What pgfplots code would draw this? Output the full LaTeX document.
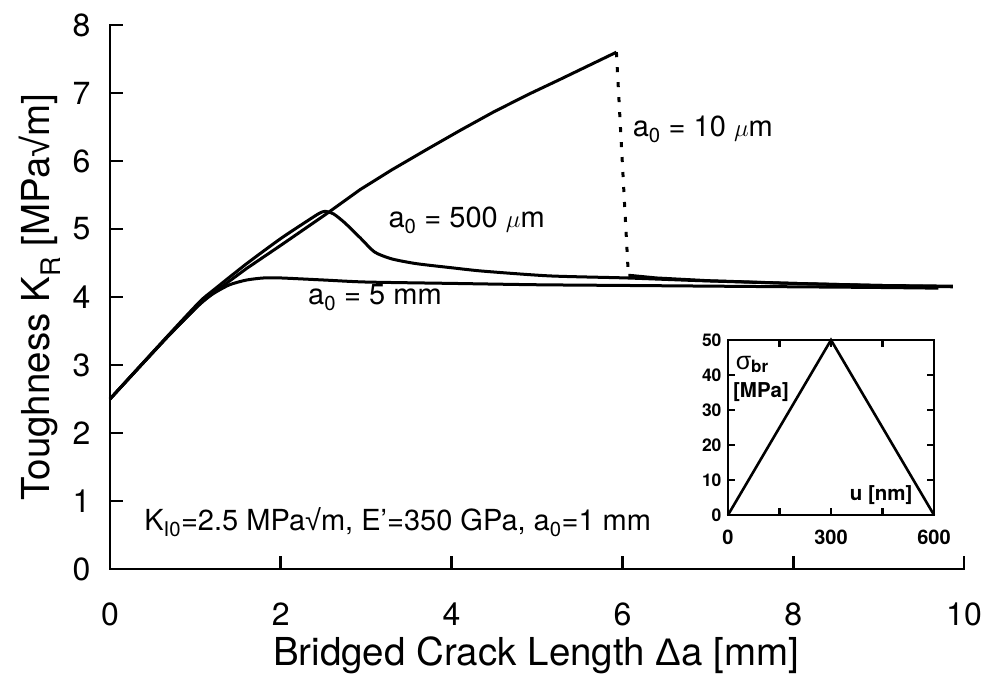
\documentclass[border=0pt]{standalone}
\usepackage{fontspec}
\setmainfont{TeX Gyre Heros}
\newfontfamily\symf{Liberation Sans}
\usepackage{pgfplots}
\pgfplotsset{compat=1.18}
\newcommand{\rt}{{\symf √}}
\begin{document}
\begin{tikzpicture}
\useasboundingbox (-110pt,-108pt) rectangle (876pt,569pt);
\begin{axis}[
  at={(0pt,0pt)}, anchor=south west,
  scale only axis, width=854pt, height=544pt,
  xmin=0, xmax=10, ymin=0, ymax=8,
  axis lines*=left,
  axis line style={line width=2.8pt, line cap=rect},
  every tick/.style={line width=2.6pt, black},
  major tick length=13pt,
  tick align=inside,
  xtick={0,2,4,6,8,10}, ytick={0,1,...,8},
  /pgf/number format/assume math mode=true,
  tick label style={font=\fontsize{32}{36}\selectfont},
  xticklabel style={yshift=-30pt},
  yticklabel style={xshift=-16pt},
  xlabel={Bridged Crack Length {\symf Δ}a [mm]},
  ylabel={Toughness K\textsubscript{R} [MPa\rt m]},
  label style={font=\fontsize{38.5}{42}\selectfont},
  xlabel style={at={(axis description cs:0.499,-0.158)}, anchor=center},
  ylabel style={at={(axis description cs:-0.082,0.5)}, anchor=center, rotate=0},
  clip=false,
]
% a0 = 10 um
\addplot[black, line width=3pt, line join=round] coordinates {
(0,2.5) (0.3,2.91) (0.67,3.41) (1.05,3.90) (1.21,4.06) (1.6,4.42) (2.0,4.76)
(2.52,5.21) (2.93,5.58) (3.3,5.87) (3.71,6.17) (4.1,6.45) (4.49,6.72)
(4.9,6.98) (5.27,7.20) (5.6,7.40) (5.93,7.60)};
\addplot[black, line width=3pt, dash pattern=on 5pt off 10pt] coordinates {
(5.93,7.60) (6.07,4.32)};
\addplot[black, line width=3pt, line join=round] coordinates {
(6.07,4.32) (6.4,4.28) (7,4.24) (8,4.20) (9,4.17) (9.87,4.15)};
% a0 = 500 um
\addplot[black, line width=3pt, line join=round, smooth, tension=0.4] coordinates {
(0,2.5) (0.67,3.42) (1.05,3.93) (1.21,4.10) (1.6,4.49) (2.0,4.86) (2.3,5.11)
(2.45,5.23) (2.52,5.26) (2.62,5.22) (2.75,5.09) (2.93,4.87) (3.1,4.66)
(3.3,4.56) (3.59,4.49) (4.0,4.43) (4.37,4.38) (5.15,4.31) (6.05,4.28)
(6.91,4.24) (8,4.20) (9,4.17) (9.87,4.16)};
% a0 = 5 mm
\addplot[black, line width=3pt, line join=round, smooth, tension=0.4] coordinates {
(0,2.5) (0.67,3.41) (1.05,3.89) (1.21,4.05) (1.4,4.18) (1.6,4.25) (1.8,4.28)
(2.0,4.28) (2.5,4.25) (3.0,4.22) (4,4.20) (5,4.18) (6,4.17) (7,4.16)
(8,4.15) (9,4.14) (9.7,4.13)};
\node[anchor=west, font=\fontsize{29}{33}\selectfont] at (axis cs:6.08,6.46) {a\textsubscript{0} = 10 $\mu$m};
\node[anchor=west, font=\fontsize{29}{33}\selectfont] at (axis cs:3.22,5.13) {a\textsubscript{0} = 500 $\mu$m};
\node[anchor=west, font=\fontsize{29}{33}\selectfont] at (axis cs:2.28,3.99) {a\textsubscript{0} = 5 mm};
\node[anchor=west, font=\fontsize{29}{33}\selectfont] at (axis cs:0.36,0.69) {K\textsubscript{I0}=2.5 MPa\rt m, E'=350 GPa, a\textsubscript{0}=1 mm};
\end{axis}
\begin{axis}[
  at={(618pt,54pt)}, anchor=south west,
  scale only axis, width=206pt, height=175pt,
  xmin=0, xmax=600, ymin=0, ymax=50,
  axis line style={line width=2.2pt},
  every tick/.style={line width=2.2pt, black},
  major tick length=7pt, minor tick length=7pt,
  tick align=inside,
  xtick={0,300,600}, minor xtick={150,450},
  ytick={0,10,...,50},
  /pgf/number format/assume math mode=true,
  yticklabel style={font=\fontsize{17.5}{20}\selectfont\bfseries, xshift=-3pt},
  xticklabel style={font=\fontsize{20}{23}\selectfont\bfseries, yshift=-11pt},
  clip=false,
]
\addplot[black, line width=2.6pt, line join=miter] coordinates {(0,0) (300,50) (600,0)};
\node[anchor=west, inner sep=0pt, font=\fontsize{25}{28}\selectfont] at (axis cs:22,43.0) {{\symf σ}\textsubscript{\fontsize{17}{20}\selectfont\bfseries br}};
\node[font=\fontsize{20.5}{24}\selectfont\bfseries] at (axis cs:96,35.1) {[MPa]};
\node[font=\fontsize{20.5}{24}\selectfont\bfseries] at (axis cs:446,5.6) {u [nm]};
\end{axis}
\end{tikzpicture}
\end{document}
